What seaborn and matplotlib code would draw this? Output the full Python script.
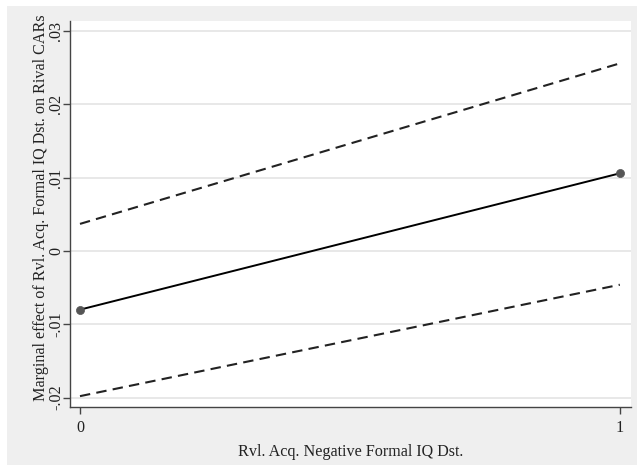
import matplotlib
matplotlib.use("Agg")
import matplotlib.pyplot as plt
import seaborn as sns
import pandas as pd
from matplotlib.patches import Rectangle

# Data
x_vals = [0, 1]
marginal_effect = [-0.0080, 0.0106]
ci_upper = [0.0037, 0.0256]
ci_lower = [-0.0198, -0.0046]
y_ticks = [-0.02, -0.01, 0.0, 0.01, 0.02, 0.03]
y_tick_labels = ["-.02", "-.01", "0", ".01", ".02", ".03"]
x_ticks = [0, 1]
x_tick_labels = ["0", "1"]
x_label = "Rvl. Acq. Negative Formal IQ Dst."
y_label = "Marginal effect of Rvl. Acq. Formal IQ Dst. on Rival CARs"

sns.set_theme(style="white")
plt.rcParams['font.family'] = ['Liberation Serif', 'DejaVu Serif']

W, H = 638, 466
fig = plt.figure(figsize=(W / 100, H / 100), dpi=100, facecolor="white")
# outer gray panel
fig.patches.append(Rectangle((7 / W, 1 - 465 / H), (637 - 7) / W, (465 - 6) / H,
                             transform=fig.transFigure, facecolor="#efefef",
                             edgecolor="none", zorder=-10))

ax = fig.add_axes([70 / W, 1 - 407 / H, (631 - 70) / W, (407 - 21) / H])
ax.set_facecolor("white")

df = pd.DataFrame({"x": x_vals, "me": marginal_effect, "hi": ci_upper, "lo": ci_lower})

sns.lineplot(data=df, x="x", y="me", ax=ax, color="black", lw=1.4, zorder=3)
sns.lineplot(data=df, x="x", y="hi", ax=ax, color="#222222", lw=1.5, zorder=3,
             linestyle=(0, (5, 3)))
sns.lineplot(data=df, x="x", y="lo", ax=ax, color="#222222", lw=1.5, zorder=3,
             linestyle=(0, (5, 3)))
sns.scatterplot(data=df, x="x", y="me", ax=ax, color="#555555", s=34,
                edgecolor="#555555", linewidth=0.5, zorder=4)

ax.set_xlim(-0.0185, 1.0207)
ax.set_ylim(-0.02128, 0.03138)

ax.set_yticks(y_ticks)
ax.set_yticklabels(y_tick_labels, rotation=90, va="center", fontsize=11.6, color="#222222")
ax.set_xticks(x_ticks)
ax.set_xticklabels(x_tick_labels, fontsize=11.6, color="#222222")
ax.tick_params(axis="x", direction="out", length=5, width=1.0, color="#444444",
               bottom=True, pad=4)
ax.tick_params(axis="y", direction="out", length=5, width=1.0, color="#444444",
               left=True, pad=-1)

for yv in y_ticks:
    ax.axhline(yv, color="#e6e6e6", lw=1.3, zorder=1)

for s in ["top", "right"]:
    ax.spines[s].set_visible(False)
for s in ["left", "bottom"]:
    ax.spines[s].set_color("#444444")
    ax.spines[s].set_linewidth(1.0)

ax.set_xlabel(x_label, fontsize=11.6, color="#222222", labelpad=6)
ax.set_ylabel(y_label, fontsize=11.6, color="#222222")
ax.yaxis.set_label_coords(-0.038, 0.5155)

fig.savefig("out.png", dpi=100, facecolor="white")
